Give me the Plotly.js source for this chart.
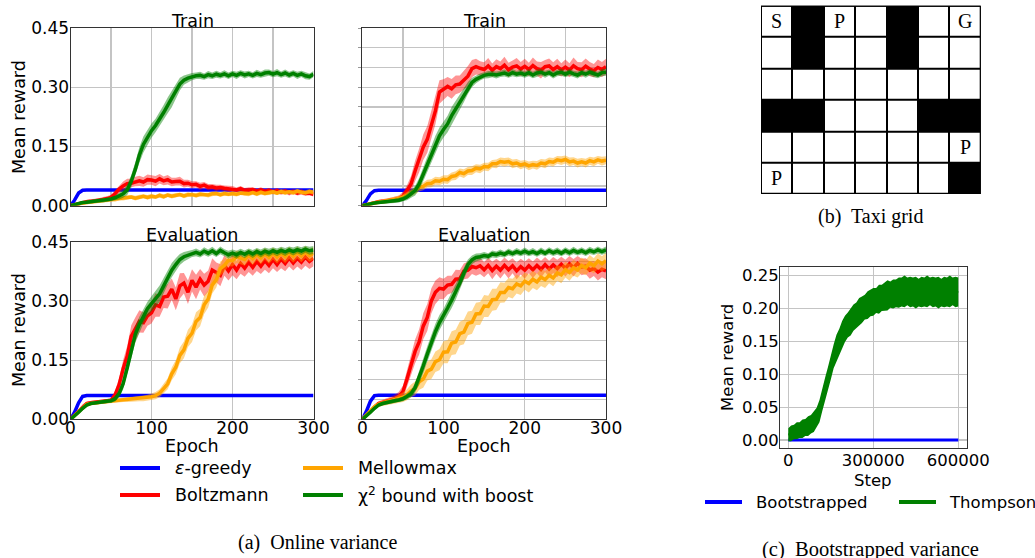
<!DOCTYPE html>
<html>
<head>
<meta charset="utf-8">
<script src="https://cdn.plot.ly/plotly-3.0.1.min.js"></script>
<style>html,body{margin:0;padding:0;background:#fff;}#chart{width:1035px;height:558px;}</style>
</head>
<body>
<div id="chart"></div>
<script>
// ---------------- DATA ----------------
const EPOCHS = [0,5,10,15,20,25,30,35,40,45,50,55,60,65,70,75,80,85,90,95,
  100,105,110,115,120,125,130,135,140,145,150,155,160,165,170,175,180,185,190,195,
  200,205,210,215,220,225,230,235,240,245,250,255,260,265,270,275,280,285,290,295,300];

const SERIES_NAMES = ["ε-greedy", "Boltzmann", "Mellowmax", "χ<sup>2</sup> bound with boost"];

// ---- Train, panel A (top-left)
const blueTrainA = [0.000,0.014,0.032,0.039,0.040,0.040,0.041,0.040,0.040,0.041,
 0.040,0.040,0.041,0.040,0.040,0.040,0.041,0.040,0.040,0.040,
 0.041,0.040,0.040,0.040,0.040,0.041,0.040,0.040,0.039,0.040,
 0.040,0.040,0.040,0.039,0.040,0.040,0.040,0.040,0.039,0.040,
 0.040,0.040,0.040,0.040,0.039,0.040,0.040,0.040,0.040,0.040,
 0.040,0.039,0.040,0.040,0.040,0.040,0.040,0.040,0.040,0.040,0.040];
const redTrainA = [0.000,0.003,0.006,0.008,0.010,0.011,0.012,0.014,0.016,0.018,
 0.021,0.030,0.042,0.050,0.056,0.057,0.061,0.063,0.060,0.066,
 0.065,0.062,0.068,0.063,0.066,0.060,0.061,0.062,0.056,0.057,
 0.053,0.054,0.049,0.052,0.047,0.048,0.045,0.046,0.044,0.043,
 0.043,0.040,0.043,0.039,0.040,0.041,0.037,0.040,0.036,0.039,
 0.035,0.038,0.034,0.037,0.033,0.036,0.032,0.035,0.031,0.032,0.029];
const orangeTrainA = [0.000,0.003,0.005,0.007,0.008,0.010,0.011,0.012,0.013,0.014,
 0.015,0.016,0.018,0.019,0.020,0.022,0.019,0.022,0.024,0.021,
 0.024,0.022,0.026,0.023,0.027,0.024,0.026,0.028,0.025,0.028,
 0.028,0.026,0.029,0.028,0.027,0.030,0.031,0.028,0.031,0.029,
 0.031,0.029,0.032,0.031,0.030,0.033,0.030,0.034,0.031,0.033,
 0.035,0.032,0.036,0.033,0.035,0.033,0.037,0.034,0.033,0.036,0.034];
const greenTrainA = [0.000,0.003,0.006,0.008,0.009,0.010,0.011,0.012,0.013,0.015,
 0.017,0.020,0.024,0.030,0.040,0.062,0.092,0.128,0.155,0.174,
 0.190,0.203,0.218,0.236,0.254,0.270,0.290,0.308,0.318,0.323,
 0.327,0.329,0.330,0.327,0.332,0.329,0.333,0.330,0.334,0.329,
 0.334,0.330,0.335,0.331,0.334,0.330,0.335,0.332,0.336,0.337,
 0.333,0.337,0.332,0.336,0.331,0.335,0.330,0.334,0.329,0.327,0.333];
const redTrainA_sd = [0.002,0.003,0.004,0.004,0.005,0.005,0.005,0.005,0.006,0.006,
 0.007,0.009,0.010,0.011,0.012,0.011,0.012,0.013,0.012,0.013,
 0.012,0.013,0.012,0.011,0.012,0.011,0.010,0.011,0.010,0.009,
 0.009,0.008,0.009,0.008,0.008,0.007,0.008,0.007,0.007,0.008,
 0.007,0.006,0.007,0.006,0.007,0.006,0.006,0.007,0.006,0.006,
 0.006,0.007,0.006,0.006,0.007,0.006,0.006,0.007,0.006,0.006,0.006];
const orangeTrainA_sd = [0.001,0.002,0.003,0.003,0.004,0.004,0.004,0.005,0.005,0.005,
 0.005,0.006,0.005,0.006,0.006,0.005,0.006,0.006,0.005,0.006,
 0.006,0.005,0.006,0.006,0.005,0.006,0.006,0.005,0.006,0.006,
 0.005,0.006,0.006,0.005,0.006,0.006,0.005,0.006,0.006,0.005,
 0.006,0.006,0.005,0.006,0.006,0.005,0.006,0.006,0.005,0.006,
 0.006,0.005,0.006,0.006,0.005,0.006,0.006,0.005,0.006,0.006,0.006];
const greenTrainA_sd = [0.001,0.002,0.003,0.003,0.004,0.004,0.004,0.004,0.005,0.005,
 0.005,0.006,0.008,0.010,0.013,0.016,0.018,0.020,0.020,0.019,
 0.018,0.017,0.018,0.019,0.020,0.021,0.020,0.016,0.012,0.010,
 0.009,0.008,0.009,0.008,0.009,0.008,0.009,0.008,0.009,0.008,
 0.008,0.009,0.008,0.009,0.008,0.008,0.009,0.008,0.009,0.008,
 0.008,0.009,0.008,0.009,0.008,0.008,0.009,0.008,0.009,0.008,0.008];

// ---- Train, panel B (top-right)
const blueTrainB = [0.000,0.013,0.030,0.038,0.039,0.039,0.040,0.039,0.039,0.040,
 0.039,0.039,0.040,0.039,0.039,0.039,0.040,0.039,0.039,0.039,
 0.040,0.039,0.039,0.039,0.039,0.040,0.039,0.039,0.039,0.039,
 0.039,0.039,0.040,0.039,0.039,0.039,0.039,0.039,0.040,0.039,
 0.039,0.039,0.039,0.039,0.039,0.040,0.039,0.039,0.039,0.039,
 0.039,0.039,0.039,0.040,0.039,0.039,0.039,0.039,0.039,0.039,0.039];
const redTrainB = [0.000,0.003,0.006,0.008,0.010,0.011,0.012,0.014,0.016,0.018,
 0.025,0.038,0.055,0.088,0.115,0.148,0.168,0.205,0.240,0.288,
 0.294,0.302,0.296,0.306,0.308,0.318,0.328,0.347,0.352,0.348,
 0.345,0.354,0.343,0.352,0.347,0.356,0.344,0.351,0.354,0.346,
 0.353,0.345,0.355,0.347,0.343,0.352,0.354,0.345,0.352,0.344,
 0.351,0.343,0.354,0.347,0.344,0.353,0.346,0.342,0.350,0.345,0.352];
const orangeTrainB = [0.000,0.003,0.005,0.007,0.009,0.010,0.012,0.014,0.016,0.018,
 0.021,0.026,0.032,0.038,0.046,0.049,0.056,0.057,0.063,0.062,
 0.067,0.066,0.074,0.076,0.084,0.081,0.088,0.089,0.095,0.093,
 0.099,0.098,0.106,0.106,0.112,0.110,0.112,0.106,0.108,0.103,
 0.106,0.101,0.104,0.102,0.108,0.106,0.112,0.110,0.116,0.114,
 0.117,0.111,0.113,0.108,0.111,0.108,0.114,0.111,0.116,0.113,0.115];
const greenTrainB = [0.000,0.003,0.005,0.007,0.008,0.009,0.010,0.011,0.012,0.014,
 0.017,0.022,0.030,0.038,0.055,0.080,0.105,0.130,0.155,0.177,
 0.193,0.207,0.228,0.245,0.262,0.280,0.298,0.312,0.320,0.326,
 0.330,0.332,0.333,0.331,0.334,0.336,0.332,0.337,0.333,0.336,
 0.332,0.337,0.331,0.336,0.338,0.333,0.337,0.331,0.336,0.338,
 0.333,0.338,0.334,0.331,0.337,0.333,0.338,0.334,0.331,0.337,0.338];
const redTrainB_sd = [0.002,0.003,0.004,0.004,0.005,0.005,0.006,0.006,0.007,0.008,
 0.010,0.014,0.020,0.026,0.030,0.032,0.034,0.035,0.034,0.030,
 0.026,0.024,0.025,0.024,0.022,0.024,0.026,0.022,0.020,0.018,
 0.018,0.020,0.017,0.019,0.018,0.021,0.018,0.017,0.020,0.018,
 0.019,0.017,0.020,0.018,0.021,0.017,0.019,0.018,0.020,0.017,
 0.019,0.018,0.021,0.017,0.019,0.020,0.018,0.017,0.020,0.019,0.020];
const orangeTrainB_sd = [0.001,0.002,0.003,0.004,0.005,0.005,0.006,0.006,0.007,0.007,
 0.008,0.008,0.009,0.009,0.010,0.010,0.010,0.010,0.010,0.010,
 0.010,0.011,0.010,0.011,0.010,0.011,0.010,0.011,0.010,0.011,
 0.010,0.011,0.010,0.011,0.010,0.011,0.010,0.011,0.010,0.011,
 0.010,0.011,0.010,0.011,0.010,0.011,0.010,0.011,0.010,0.011,
 0.010,0.011,0.010,0.011,0.010,0.011,0.010,0.011,0.010,0.011,0.010];
const greenTrainB_sd = [0.001,0.002,0.003,0.003,0.004,0.004,0.004,0.005,0.005,0.006,
 0.006,0.008,0.010,0.012,0.015,0.018,0.020,0.022,0.022,0.021,
 0.020,0.021,0.022,0.021,0.020,0.018,0.015,0.012,0.010,0.009,
 0.008,0.009,0.008,0.009,0.008,0.009,0.008,0.009,0.008,0.009,
 0.008,0.009,0.008,0.009,0.008,0.009,0.008,0.009,0.008,0.009,
 0.008,0.009,0.008,0.009,0.008,0.009,0.008,0.009,0.008,0.009,0.009];

// ---- Evaluation, panel A (bottom-left)
const blueEvalA = [0.000,0.018,0.042,0.058,0.060,0.060,0.060,0.061,0.060,0.060,
 0.060,0.061,0.060,0.060,0.060,0.060,0.061,0.060,0.060,0.060,
 0.060,0.060,0.061,0.060,0.060,0.060,0.060,0.060,0.061,0.060,
 0.060,0.060,0.060,0.060,0.060,0.061,0.060,0.060,0.060,0.060,
 0.060,0.060,0.060,0.061,0.060,0.060,0.060,0.060,0.060,0.060,
 0.061,0.060,0.060,0.060,0.060,0.060,0.060,0.061,0.060,0.060,0.060];
const redEvalA = [0.000,0.010,0.022,0.033,0.040,0.042,0.043,0.044,0.045,0.046,
 0.048,0.062,0.088,0.128,0.160,0.210,0.228,0.248,0.245,0.262,
 0.270,0.290,0.286,0.310,0.312,0.330,0.305,0.338,0.345,0.322,
 0.352,0.335,0.355,0.340,0.350,0.378,0.372,0.365,0.390,0.376,
 0.392,0.378,0.395,0.383,0.398,0.385,0.400,0.388,0.402,0.390,
 0.405,0.392,0.406,0.395,0.409,0.396,0.408,0.398,0.411,0.400,0.408];
const orangeEvalA = [0.000,0.010,0.020,0.030,0.038,0.040,0.042,0.043,0.044,0.045,
 0.046,0.047,0.048,0.049,0.050,0.050,0.051,0.052,0.053,0.055,
 0.057,0.060,0.066,0.078,0.090,0.115,0.132,0.162,0.176,0.205,
 0.218,0.248,0.258,0.290,0.305,0.340,0.354,0.382,0.390,0.403,
 0.402,0.412,0.408,0.405,0.416,0.407,0.418,0.409,0.419,0.410,
 0.420,0.411,0.421,0.412,0.422,0.413,0.423,0.414,0.424,0.415,0.421];
const greenEvalA = [0.000,0.008,0.018,0.028,0.036,0.040,0.042,0.043,0.045,0.046,
 0.047,0.052,0.065,0.090,0.130,0.175,0.215,0.240,0.262,0.280,
 0.293,0.305,0.318,0.338,0.360,0.378,0.392,0.405,0.412,0.416,
 0.420,0.423,0.419,0.426,0.421,0.427,0.420,0.428,0.422,0.417,
 0.421,0.417,0.423,0.418,0.424,0.419,0.425,0.420,0.426,0.422,
 0.427,0.423,0.428,0.424,0.429,0.425,0.430,0.426,0.431,0.427,0.429];
const redEvalA_sd = [0.002,0.004,0.005,0.005,0.005,0.005,0.005,0.005,0.005,0.005,
 0.006,0.010,0.016,0.022,0.026,0.028,0.030,0.028,0.026,0.025,
 0.027,0.030,0.026,0.028,0.031,0.027,0.029,0.032,0.026,0.030,
 0.028,0.031,0.026,0.029,0.027,0.030,0.025,0.028,0.026,0.024,
 0.027,0.023,0.026,0.022,0.025,0.021,0.024,0.020,0.023,0.020,
 0.022,0.019,0.023,0.020,0.022,0.019,0.021,0.020,0.022,0.019,0.020];
const orangeEvalA_sd = [0.002,0.003,0.004,0.004,0.004,0.004,0.004,0.004,0.005,0.005,
 0.005,0.005,0.005,0.005,0.006,0.006,0.006,0.006,0.007,0.007,
 0.008,0.009,0.010,0.012,0.014,0.016,0.018,0.020,0.021,0.022,
 0.022,0.023,0.022,0.023,0.022,0.021,0.020,0.018,0.016,0.015,
 0.015,0.016,0.015,0.016,0.015,0.016,0.015,0.016,0.015,0.016,
 0.015,0.016,0.015,0.016,0.015,0.016,0.015,0.016,0.015,0.016,0.016];
const greenEvalA_sd = [0.002,0.003,0.004,0.004,0.004,0.004,0.004,0.004,0.005,0.005,
 0.005,0.007,0.010,0.014,0.018,0.020,0.021,0.020,0.019,0.018,
 0.019,0.020,0.021,0.020,0.019,0.018,0.016,0.014,0.012,0.010,
 0.009,0.010,0.009,0.010,0.009,0.010,0.009,0.010,0.009,0.010,
 0.009,0.010,0.009,0.010,0.009,0.010,0.009,0.010,0.009,0.010,
 0.009,0.010,0.009,0.010,0.009,0.010,0.009,0.010,0.009,0.010,0.010];

// ---- Evaluation, panel B (bottom-right)
const blueEvalB = [0.000,0.020,0.046,0.060,0.061,0.061,0.061,0.062,0.061,0.061,
 0.061,0.062,0.061,0.061,0.061,0.061,0.062,0.061,0.061,0.061,
 0.061,0.061,0.062,0.061,0.061,0.061,0.061,0.061,0.062,0.061,
 0.061,0.061,0.061,0.061,0.061,0.062,0.061,0.061,0.061,0.061,
 0.061,0.061,0.061,0.062,0.061,0.061,0.061,0.061,0.061,0.061,
 0.062,0.061,0.061,0.061,0.061,0.061,0.061,0.062,0.061,0.061,0.061];
const redEvalB = [0.000,0.010,0.022,0.033,0.040,0.043,0.046,0.049,0.052,0.058,
 0.070,0.102,0.135,0.172,0.196,0.236,0.258,0.300,0.322,0.332,
 0.330,0.340,0.342,0.355,0.356,0.375,0.378,0.387,0.384,0.389,
 0.379,0.390,0.377,0.388,0.378,0.390,0.379,0.389,0.376,0.387,
 0.378,0.389,0.379,0.390,0.380,0.392,0.381,0.391,0.382,0.393,
 0.383,0.394,0.384,0.395,0.386,0.388,0.378,0.382,0.373,0.380,0.376];
const orangeEvalB = [0.000,0.010,0.022,0.032,0.038,0.041,0.043,0.046,0.049,0.052,
 0.056,0.062,0.072,0.078,0.095,0.102,0.122,0.127,0.146,0.151,
 0.170,0.171,0.193,0.196,0.217,0.221,0.243,0.246,0.267,0.268,
 0.287,0.286,0.303,0.304,0.321,0.321,0.334,0.331,0.343,0.338,
 0.350,0.344,0.355,0.348,0.360,0.354,0.365,0.358,0.371,0.366,
 0.379,0.372,0.384,0.378,0.390,0.384,0.396,0.389,0.401,0.394,0.402];
const greenEvalB = [0.000,0.008,0.018,0.028,0.036,0.040,0.043,0.045,0.047,0.049,
 0.052,0.058,0.065,0.080,0.105,0.135,0.165,0.195,0.222,0.245,
 0.262,0.282,0.302,0.322,0.345,0.370,0.392,0.404,0.410,0.412,
 0.415,0.413,0.419,0.417,0.421,0.418,0.424,0.420,0.425,0.421,
 0.426,0.421,0.425,0.420,0.426,0.421,0.427,0.422,0.426,0.421,
 0.427,0.422,0.428,0.423,0.427,0.422,0.428,0.424,0.429,0.425,0.429];
const redEvalB_sd = [0.002,0.004,0.005,0.005,0.006,0.006,0.007,0.008,0.010,0.012,
 0.015,0.020,0.025,0.030,0.032,0.033,0.034,0.032,0.030,0.028,
 0.026,0.024,0.022,0.024,0.022,0.020,0.021,0.019,0.020,0.021,
 0.019,0.020,0.022,0.019,0.021,0.020,0.022,0.019,0.021,0.020,
 0.022,0.019,0.021,0.020,0.022,0.019,0.021,0.020,0.022,0.019,
 0.021,0.020,0.022,0.019,0.021,0.020,0.022,0.019,0.021,0.020,0.021];
const orangeEvalB_sd = [0.002,0.004,0.005,0.005,0.006,0.006,0.007,0.008,0.009,0.010,
 0.012,0.014,0.016,0.018,0.020,0.022,0.024,0.025,0.026,0.027,
 0.028,0.029,0.030,0.031,0.030,0.031,0.030,0.029,0.028,0.029,
 0.028,0.027,0.028,0.027,0.026,0.025,0.024,0.025,0.024,0.023,
 0.022,0.023,0.022,0.021,0.022,0.021,0.020,0.021,0.020,0.021,
 0.020,0.021,0.020,0.019,0.020,0.019,0.020,0.019,0.020,0.019,0.020];
const greenEvalB_sd = [0.002,0.003,0.004,0.004,0.004,0.005,0.005,0.005,0.005,0.005,
 0.006,0.007,0.009,0.012,0.016,0.019,0.020,0.021,0.020,0.019,
 0.018,0.019,0.020,0.019,0.018,0.016,0.013,0.011,0.010,0.009,
 0.009,0.008,0.009,0.008,0.009,0.008,0.009,0.008,0.009,0.008,
 0.009,0.008,0.009,0.008,0.009,0.008,0.009,0.008,0.009,0.008,
 0.009,0.008,0.009,0.008,0.009,0.008,0.009,0.008,0.009,0.008,0.009];

// ---- (b) Taxi grid: 1 = wall (black)
const TAXI_COLS = [0,1,2,3,4,5,6];
const TAXI_ROWS = [0,1,2,3,4,5];
const TAXI_WALLS = [
  [0,1,0,0,1,0,0],
  [0,1,0,0,1,0,0],
  [0,0,0,0,0,0,0],
  [1,1,0,0,0,1,1],
  [0,0,0,0,0,0,0],
  [0,0,0,0,0,0,1]
];
const TAXI_LABELS = ["S","P","G","P","P"];
const TAXI_LABEL_COL = [0,2,6,6,0];
const TAXI_LABEL_ROW = [0,0,0,4,5];

// ---- (c) Bootstrapped variance
const STEPS = [0,10000,20000,30000,40000,50000,60000,70000,80000,90000,
 100000,110000,120000,130000,140000,150000,160000,170000,180000,190000,
 200000,210000,220000,230000,240000,250000,260000,270000,280000,290000,
 300000,310000,320000,330000,340000,350000,360000,370000,380000,390000,
 400000,410000,420000,430000,440000,450000,460000,470000,480000,490000,
 500000,510000,520000,530000,540000,550000,560000,570000,580000,590000,600000];
const thompsonMean = [0.008,0.010,0.012,0.014,0.015,0.017,0.019,0.021,0.024,0.028,
 0.034,0.044,0.060,0.077,0.094,0.111,0.127,0.140,0.150,0.160,
 0.169,0.175,0.180,0.186,0.190,0.195,0.198,0.202,0.205,0.208,
 0.210,0.212,0.214,0.216,0.218,0.220,0.221,0.222,0.223,0.224,
 0.225,0.226,0.226,0.225,0.225,0.224,0.224,0.225,0.225,0.226,
 0.226,0.225,0.225,0.224,0.224,0.225,0.225,0.226,0.226,0.225,0.225];
const thompsonSpread = [0.010,0.012,0.011,0.013,0.012,0.014,0.013,0.015,0.014,0.016,
 0.015,0.017,0.016,0.018,0.017,0.019,0.018,0.020,0.019,0.021,
 0.020,0.019,0.021,0.020,0.019,0.021,0.020,0.019,0.021,0.020,
 0.021,0.019,0.022,0.020,0.021,0.023,0.020,0.022,0.021,0.023,
 0.022,0.024,0.021,0.023,0.022,0.024,0.021,0.023,0.022,0.024,
 0.021,0.023,0.022,0.024,0.021,0.023,0.022,0.024,0.021,0.023,0.022];
const bootstrappedMean = [0.000,0.000,0.000,0.000,0.001,0.000,0.000,0.000,0.001,0.000,
 0.000,0.000,0.000,0.001,0.000,0.000,0.000,0.000,0.000,0.001,
 0.000,0.000,0.000,0.000,0.000,0.000,0.001,0.000,0.000,0.000,
 0.000,0.000,0.000,0.001,0.000,0.000,0.000,0.000,0.000,0.000,
 0.001,0.000,0.000,0.000,0.000,0.001,0.000,0.000,0.000,0.000,
 0.000,0.001,0.000,0.000,0.000,0.000,0.000,0.001,0.000,0.000,0.000];

// ---------------- STYLE / LAYOUT HELPERS ----------------
const W = 1035, H = 558;
const px = v => v / W;
const py = v => 1 - v / H;
const FONT = "DejaVu Sans";
const SERIF = "Liberation Serif";
const COLORS = ["#0000ff", "#ff0000", "#ffa500", "#008000"];
const BANDS = ["rgba(0,0,255,0.3)", "rgba(255,0,0,0.42)", "rgba(255,165,0,0.45)", "rgba(0,128,0,0.45)"];

function bandTrace(x, m, s, color, xa, ya) {
  const up = m.map((v, i) => v + s[i]);
  const lo = m.map((v, i) => v - s[i]);
  return {x: x.concat(x.slice().reverse()), y: up.concat(lo.slice().reverse()),
    type: "scatter", mode: "lines", fill: "toself", fillcolor: color,
    line: {width: 0}, hoverinfo: "skip", xaxis: xa, yaxis: ya, showlegend: false};
}
function lineTrace(x, m, color, xa, ya, w) {
  return {x: x, y: m, type: "scatter", mode: "lines", line: {color: color, width: w || 3.5},
    hoverinfo: "skip", xaxis: xa, yaxis: ya, showlegend: false};
}

const panels = [
  {xa: "x", ya: "y", means: [blueTrainA, redTrainA, orangeTrainA, greenTrainA], sds: [null, redTrainA_sd, orangeTrainA_sd, greenTrainA_sd]},
  {xa: "x2", ya: "y2", means: [blueTrainB, redTrainB, orangeTrainB, greenTrainB], sds: [null, redTrainB_sd, orangeTrainB_sd, greenTrainB_sd]},
  {xa: "x3", ya: "y3", means: [blueEvalA, redEvalA, orangeEvalA, greenEvalA], sds: [null, redEvalA_sd, orangeEvalA_sd, greenEvalA_sd]},
  {xa: "x4", ya: "y4", means: [blueEvalB, redEvalB, orangeEvalB, greenEvalB], sds: [null, redEvalB_sd, orangeEvalB_sd, greenEvalB_sd]}
];

const traces = [];
panels.forEach(p => {
  for (let k = 0; k < 4; k++) {
    if (p.sds[k]) traces.push(bandTrace(EPOCHS, p.means[k], p.sds[k], BANDS[k], p.xa, p.ya));
    traces.push(lineTrace(EPOCHS, p.means[k], COLORS[k], p.xa, p.ya, 3.5));
  }
});

// (c)
traces.push(lineTrace(STEPS, bootstrappedMean, "#0000ff", "x5", "y5", 3));
traces.push(bandTrace(STEPS, thompsonMean, thompsonSpread, "#008000", "x5", "y5"));
traces.push(lineTrace(STEPS, thompsonMean, "#008000", "x5", "y5", 2));

// (b) taxi grid
traces.push({type: "heatmap", x: TAXI_COLS, y: TAXI_ROWS, z: TAXI_WALLS, zmin: 0, zmax: 1,
  colorscale: [[0, "#ffffff"], [1, "#000000"]], showscale: false, xgap: 2, ygap: 2,
  hoverinfo: "skip", xaxis: "x6", yaxis: "y6"});

const tickFont = {family: FONT, size: 17, color: "#000"};
function baseAxis(extra) {
  return Object.assign({showline: true, mirror: true, linecolor: "#333", linewidth: 1,
    zeroline: false, showgrid: true, gridcolor: "#c4c4c4", gridwidth: 1.2,
    ticks: "", tickfont: tickFont, fixedrange: true}, extra);
}
const X_TOP = [0, 50, 100, 150, 200, 250, 300];
const X_BOT = [0, 100, 200, 300];
const Y_MAJOR = [0, 0.15, 0.30, 0.45];
const Y_MAJOR_TXT = ["0.00", "0.15", "0.30", "0.45"];
const Y_FINE = [0, 0.05, 0.10, 0.15, 0.20, 0.25, 0.30, 0.35, 0.40, 0.45];

const dTop = [py(205.7), py(28)];
const dBot = [py(419.3), py(241.7)];
const dLeft = [px(70.5), px(313.5)];
const dRight = [px(362.3), px(606)];

const layout = {
  width: W, height: H, margin: {l: 0, r: 0, t: 0, b: 0, pad: 0},
  paper_bgcolor: "#fff", plot_bgcolor: "#fff", showlegend: false, hovermode: false,
  font: {family: FONT, color: "#000"},
  xaxis: baseAxis({domain: dLeft, range: [0, 300], tickvals: X_TOP, showticklabels: false, anchor: "y"}),
  yaxis: baseAxis({domain: dTop, range: [0, 0.45], tickvals: Y_MAJOR, ticktext: Y_MAJOR_TXT, anchor: "x", ticklabelstandoff: -3}),
  xaxis2: baseAxis({domain: dRight, range: [0, 300], tickvals: X_TOP, showticklabels: false, anchor: "y2"}),
  yaxis2: baseAxis({domain: dTop, range: [0, 0.45], tickvals: Y_FINE, showticklabels: false, anchor: "x2", ticks: "outside", ticklen: 3, tickcolor: "#999"}),
  xaxis3: baseAxis({domain: dLeft, range: [0, 300], tickvals: X_BOT, anchor: "y3", ticklabelstandoff: -7}),
  yaxis3: baseAxis({domain: dBot, range: [0, 0.45], tickvals: Y_MAJOR, ticktext: Y_MAJOR_TXT, anchor: "x3", ticklabelstandoff: -3}),
  xaxis4: baseAxis({domain: dRight, range: [0, 300], tickvals: X_BOT, anchor: "y4", ticklabelstandoff: -7}),
  yaxis4: baseAxis({domain: dBot, range: [0, 0.45], tickvals: Y_FINE, showticklabels: false, anchor: "x4", ticks: "outside", ticklen: 3, tickcolor: "#999"}),
  xaxis5: baseAxis({domain: [px(780), px(966.7)], range: [-29300, 629600], tickvals: [0, 300000, 600000], ticktext: ["0", "300000", "600000"], anchor: "y5", ticklabelstandoff: -3, tickfont: {family: FONT, size: 16.5, color: "#000"}}),
  yaxis5: baseAxis({domain: [py(447.7), py(267)], range: [-0.0117, 0.263], tickvals: [0, 0.05, 0.10, 0.15, 0.20, 0.25], ticktext: ["0.00", "0.05", "0.10", "0.15", "0.20", "0.25"], anchor: "x5", ticklabelstandoff: -3, tickfont: {family: FONT, size: 16.5, color: "#000"}}),
  xaxis6: {domain: [px(761), px(980.7)], range: [-0.5, 6.5], showgrid: false, zeroline: false, showticklabels: false, ticks: "", showline: false, anchor: "y6", fixedrange: true},
  yaxis6: {domain: [py(194), py(5.7)], range: [5.5, -0.5], showgrid: false, zeroline: false, showticklabels: false, ticks: "", showline: false, anchor: "x6", fixedrange: true},
  shapes: [
    {type: "rect", xref: "x6", yref: "y6", x0: -0.5, x1: 6.5, y0: -0.5, y1: 5.5, fillcolor: "#000", line: {color: "#000", width: 2}, layer: "below"},
    {type: "rect", xref: "x6", yref: "y6", x0: -0.5, x1: 6.5, y0: -0.5, y1: 5.5, fillcolor: "rgba(0,0,0,0)", line: {color: "#000", width: 2}, layer: "above"}
  ],
  annotations: []
};

// legend (a)
const LEG_A = [
  {name: "<i>ε</i>-greedy", c: COLORS[0], x: 120, tx: 173, y: 468},
  {name: "Boltzmann", c: COLORS[1], x: 120, tx: 173, y: 495},
  {name: "Mellowmax", c: COLORS[2], x: 303, tx: 356, y: 468},
  {name: "χ<sup>2</sup> bound with boost", c: COLORS[3], x: 303, tx: 356, y: 495}
];
LEG_A.forEach(e => {
  layout.shapes.push({type: "line", xref: "paper", yref: "paper", x0: px(e.x), x1: px(e.x + 40), y0: py(e.y), y1: py(e.y), line: {color: e.c, width: 4}});
  layout.annotations.push({xref: "paper", yref: "paper", x: px(e.tx), y: py(e.y), xanchor: "left", yanchor: "middle", showarrow: false, text: e.name, font: {family: FONT, size: 17.5, color: "#000"}});
});
// legend (c)
const LEG_C = [
  {name: "Bootstrapped", c: "#0000ff", x: 705, tx: 754, y: 502},
  {name: "Thompson", c: "#008000", x: 899, tx: 947, y: 502}
];
LEG_C.forEach(e => {
  layout.shapes.push({type: "line", xref: "paper", yref: "paper", x0: px(e.x), x1: px(e.x + 37), y0: py(e.y), y1: py(e.y), line: {color: e.c, width: 4}});
  layout.annotations.push({xref: "paper", yref: "paper", x: px(e.tx), y: py(e.y), xanchor: "left", yanchor: "middle", showarrow: false, text: e.name, font: {family: FONT, size: 16.5, color: "#000"}});
});

function label(text, x, y, size, fam, angle) {
  layout.annotations.push({xref: "paper", yref: "paper", x: px(x), y: py(y), xanchor: "center", yanchor: "middle",
    showarrow: false, text: text, textangle: angle || 0, font: {family: fam || FONT, size: size, color: "#000"}});
}
label("Train", 192, 20.5, 17.5);
label("Train", 484, 20.5, 17.5);
label("Evaluation", 192, 235, 17.5);
label("Evaluation", 484, 235, 17.5);
label("Epoch", 192, 446, 17.5);
label("Epoch", 484, 446, 17.5);
label("Mean reward", 19, 117, 17.5, FONT, -90);
label("Mean reward", 19, 330, 17.5, FONT, -90);
label("Mean reward", 728, 358, 16.5, FONT, -90);
label("Step", 873, 480, 16.5);
label("(a)  Online variance", 317, 542, 20, SERIF);
label("(b)  Taxi grid", 870, 217, 20, SERIF);
label("(c)  Bootstrapped variance", 870, 549, 20.5, SERIF);

// taxi letters
TAXI_LABELS.forEach((t, i) => {
  layout.annotations.push({xref: "x6", yref: "y6", x: TAXI_LABEL_COL[i], y: TAXI_LABEL_ROW[i], showarrow: false,
    text: t, font: {family: SERIF, size: 20, color: "#000"}, xanchor: "center", yanchor: "middle"});
});

Plotly.newPlot("chart", traces, layout, {staticPlot: true, displayModeBar: false});
</script>
</body>
</html>
